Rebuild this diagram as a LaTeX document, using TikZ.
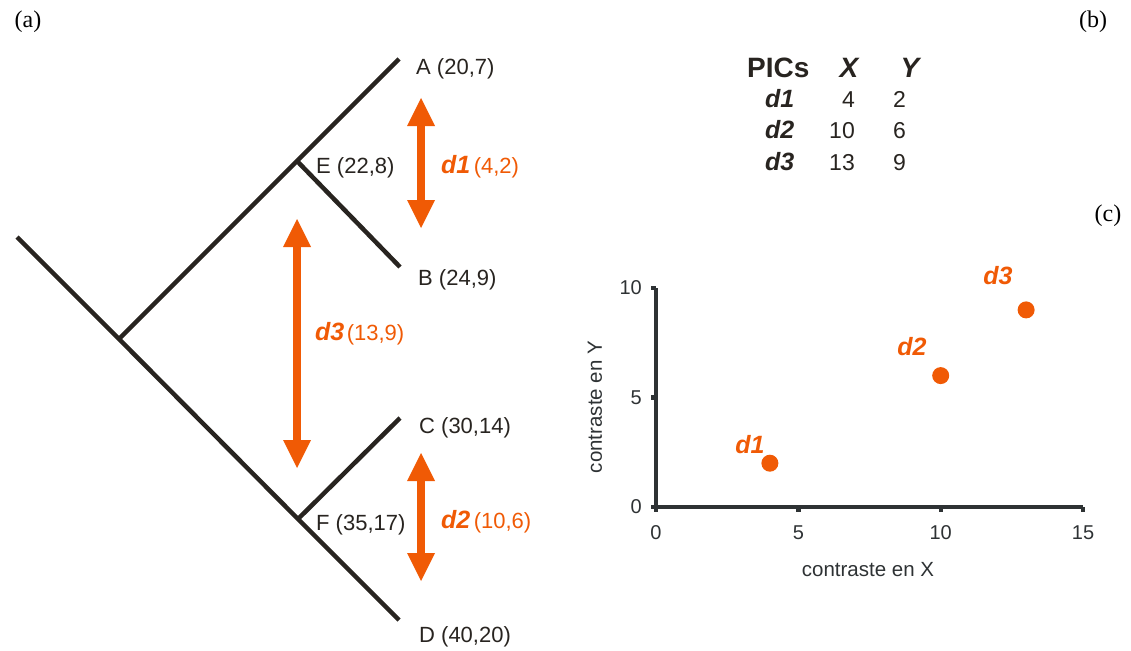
\documentclass[tikz,border=0pt]{standalone}
\usepackage{fontspec}
\setmainfont{Liberation Sans}
\newfontfamily\tagfont{Liberation Serif}
\usetikzlibrary{arrows.meta}
\definecolor{ora}{RGB}{240,90,5}
\definecolor{ink}{RGB}{40,36,32}
\definecolor{axcol}{RGB}{46,50,52}

\begin{document}
\begin{tikzpicture}[x=1pt,y=-1pt,
    branch/.style={draw=ink,line width=4.5pt},
    lbl/.style={anchor=base west,inner sep=0pt,text=ink,font=\fontsize{22}{24}\selectfont},
    dist/.style={draw=ora,line width=8pt,
        {Triangle[length=28pt,width=28pt,line width=0pt]}-{Triangle[length=28pt,width=28pt,line width=0pt]}},
    dname/.style={inner sep=0pt,text=ora,font=\fontsize{25}{28}\selectfont\bfseries\itshape},
    dval/.style={anchor=base west,inner sep=0pt,text=ora,font=\fontsize{22}{24}\selectfont},
    tag/.style={inner sep=0pt,font=\tagfont\fontsize{24}{26}\selectfont},
    thead/.style={inner sep=0pt,text=ink,font=\fontsize{28}{30}\selectfont\bfseries},
    tname/.style={anchor=base west,inner sep=0pt,text=ink,font=\fontsize{25}{28}\selectfont\bfseries\itshape},
    tnum/.style={anchor=base east,inner sep=0pt,text=ink,font=\fontsize{23}{26}\selectfont},
    axis/.style={draw=axcol,line width=4.3pt},
    tick/.style={inner sep=0pt,text=axcol,font=\fontsize{20}{22}\selectfont},
    axtitle/.style={inner sep=0pt,text=axcol,font=\fontsize{20.5}{22}\selectfont},
    dot/.style={circle,fill=ora,inner sep=0pt,minimum size=17pt}
]
\useasboundingbox (0,0) rectangle (1131,650);

% (a) tree
\coordinate (R) at (17,237);
\coordinate (G) at (119,339);
\coordinate (E) at (297,161);
\coordinate (F) at (298,519);
\coordinate (A) at (399,59);
\coordinate (B) at (400,267);
\coordinate (C) at (400,418);
\coordinate (D) at (399,620);
\draw[branch] (R) -- (G) -- (F) -- (D);
\draw[branch] (G) -- (E) -- (A);
\draw[branch] (E) -- (B);
\draw[branch] (F) -- (C);

\node[lbl] (lA) at (416,75) {A (20,7)};
\node[lbl] (lE) at (316,173) {E (22,8)};
\node[lbl] (lB) at (418,285) {B (24,9)};
\node[lbl] (lC) at (419,433) {C (30,14)};
\node[lbl] (lF) at (316,530) {F (35,17)};
\node[lbl] (lD) at (419,642) {D (40,20)};

% distances
\coordinate (d1t) at (421,98);
\coordinate (d1b) at (421,228);
\coordinate (d3t) at (297,219);
\coordinate (d3b) at (297,468);
\coordinate (d2t) at (421,453);
\coordinate (d2b) at (421,581);
\draw[dist] (d1t) -- (d1b);
\draw[dist] (d3t) -- (d3b);
\draw[dist] (d2t) -- (d2b);

\node[dname,anchor=base west] (n1) at (441,173) {d1};
\node[dval] (v1) at ([xshift=3pt]n1.base east) {(4,2)};
\node[dname,anchor=base west] (n3) at (315,340) {d3};
\node[dval] (v3) at ([xshift=2pt]n3.base east) {(13,9)};
\node[dname,anchor=base west] (n2) at (441,528) {d2};
\node[dval] (v2) at ([xshift=3pt]n2.base east) {(10,6)};

% (b) table
\node[thead,anchor=base west] (pics) at (747,78) {PICs};
\node[thead,anchor=base,font=\fontsize{28}{30}\selectfont\bfseries\itshape] (colX) at (849,78) {X};
\node[thead,anchor=base,font=\fontsize{28}{30}\selectfont\bfseries\itshape] (colY) at (910,78) {Y};
\foreach \nm/\xv/\yv/\yy in {d1/4/2/108, d2/10/6/139, d3/13/9/170}{
    \node[tname] (r\nm) at (765,\yy) {\nm};
    \node[tnum] (x\nm) at (855,\yy) {\xv};
    \node[tnum] (y\nm) at (906,\yy) {\yv};
}

% (c) plot
\begin{scope}[shift={(656,507)},x=28.47pt,y=21.9pt]
    \draw[axis] (0,10) -- (0,0) -- (15,0);
    \foreach \t in {0,5,10}{
        \draw[axis] (0,\t) -- ++(-5pt,0);
        \node[tick,anchor=east,xshift=-14pt] (ty\t) at (0,\t) {\t};
    }
    \foreach \t in {0,5,10,15}{
        \draw[axis] (\t,0) -- ++(0,-5pt);
        \node[tick,yshift=-26pt] (tx\t) at (\t,0) {\t};
    }
    \node[dot] (p1) at (4,2) {};
    \node[dot] (p2) at (10,6) {};
    \node[dot] (p3) at (13,9) {};
    \node[dname] (q1) at (3.30,2.83) {d1};
    \node[dname] (q2) at (8.99,7.31) {d2};
    \node[dname] (q3) at (12.01,10.59) {d3};
\end{scope}
\node[axtitle] (xtitle) at (868,570) {contraste en X};
\node[axtitle,rotate=90] (ytitle) at (595,407) {contraste en Y};

% panel tags
\node[tag] (ta) at (28,22) {(a)};
\node[tag] (tb) at (1093,22) {(b)};
\node[tag] (tc) at (1108,216) {(c)};
\end{tikzpicture}
\end{document}
